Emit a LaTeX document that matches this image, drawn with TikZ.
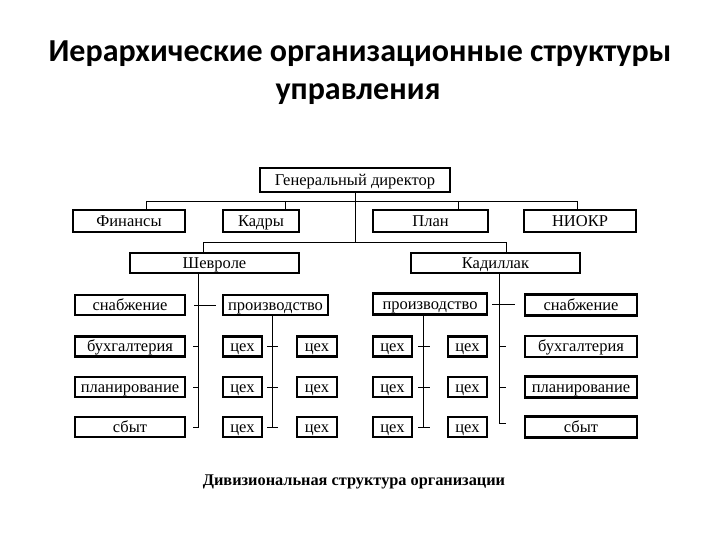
\documentclass[tikz,border=0pt]{standalone}
\usepackage{fontspec}
\setmainfont{Liberation Serif}
\newfontfamily\titlefont{Carlito}
\begin{document}
\begin{tikzpicture}[x=1pt,y=-1pt,
  box/.style={draw, line width=2.3pt, inner sep=0pt, text height=12.5pt, text depth=2pt, font=\fontsize{16.5}{18}\selectfont},
  ln/.style={line width=0.8pt},
  ttl/.style={font=\titlefont\bfseries\fontsize{32}{38}\selectfont, anchor=base, inner sep=0pt}]
\useasboundingbox (0,0) rectangle (720,540);
% title
\node[ttl] (t1) at (360,62) {Иерархические организационные структуры};
\node[ttl] (t2) at (358,100) {управления};
% top level
\node[box, minimum width=190, minimum height=24] (gd) at (355,180) {Генеральный директор};
\node[box, minimum width=112, minimum height=22] (fin) at (129,221) {Финансы};
\node[box, minimum width=76, minimum height=22] (kad) at (261,221) {Кадры};
\node[box, minimum width=115, minimum height=22] (plan) at (430.5,221) {План};
\node[box, minimum width=112, minimum height=22] (niokr) at (580,221) {НИОКР};
\node[box, minimum width=169, minimum height=20] (chev) at (214.5,263) {Шевроле};
\node[box, minimum width=169, minimum height=20] (cad) at (495.5,263) {Кадиллак};
% left division
\foreach \n/\y/\t in {1/305/снабжение,2/346.5/бухгалтерия,3/387/планирование,4/427/сбыт}{
  \node[box, minimum width=110, minimum height=20] (lf\n) at (130,\y) {\t};
  \node[box, minimum width=112, minimum height=21] (rt\n) at (581,\y) {\t};
}
\node[box, minimum width=105, minimum height=20] (lprod) at (275.5,305) {производство};
\node[box, minimum width=114, minimum height=21] (rprod) at (430,304) {производство};
\foreach \n/\y in {2/346.5,3/387,4/427}{
  \node[box, minimum width=39, minimum height=20] (la\n) at (242.5,\y) {цех};
  \node[box, minimum width=40, minimum height=20] (lb\n) at (317,\y) {цех};
  \node[box, minimum width=39, minimum height=20] (ra\n) at (392.5,\y) {цех};
  \node[box, minimum width=39, minimum height=20] (rb\n) at (467.5,\y) {цех};
}
% caption
\node[font=\bfseries\fontsize{16.3}{18}\selectfont, anchor=base, inner sep=0pt] (cap) at (354,485) {Дивизиональная структура организации};
% connectors top
\coordinate (bus1L) at (146,201);
\coordinate (bus1R) at (577,201);
\coordinate (bus2L) at (203,242);
\coordinate (bus2R) at (506,242);
\draw[ln] (gd.south) -- (gd.south |- bus2L);
\draw[ln] (bus1L) -- (bus1R);
\draw[ln] (bus1L) -- (bus1L |- fin.north);
\draw[ln] (285,201) -- (285,210);
\draw[ln] (458,201) -- (458,210);
\draw[ln] (bus1R) -- (bus1R |- niokr.north);
\draw[ln] (bus2L) -- (bus2R);
\draw[ln] (bus2L) -- (bus2L |- chev.north);
\draw[ln] (bus2R) -- (bus2R |- cad.north);
% left division spine
\coordinate (ls) at (198,273);
\draw[ln] (ls) -- (198,427) -- (193,427);
\draw[ln] (198,346.5) -- (193,346.5);
\draw[ln] (198,387) -- (193,387);
\draw[ln, shorten <=8pt, shorten >=6pt] (lf1.east) -- (lprod.west);
% left production
\draw[ln] (272,315) -- (272,427);
\foreach \y in {346.5,387,427}{\draw[ln] (267,\y) -- (278,\y);}
% right division spine
\draw[ln] (499,273) -- (499,423) -- (506,423);
\draw[ln] (499,346.5) -- (506,346.5);
\draw[ln] (499,387) -- (506,387);
\draw[ln] (492,304) -- (515,304);
% right production
\draw[ln] (423,314.5) -- (423,427);
\foreach \y in {346.5,387,427}{\draw[ln] (418,\y) -- (430,\y);}
\end{tikzpicture}
\end{document}
